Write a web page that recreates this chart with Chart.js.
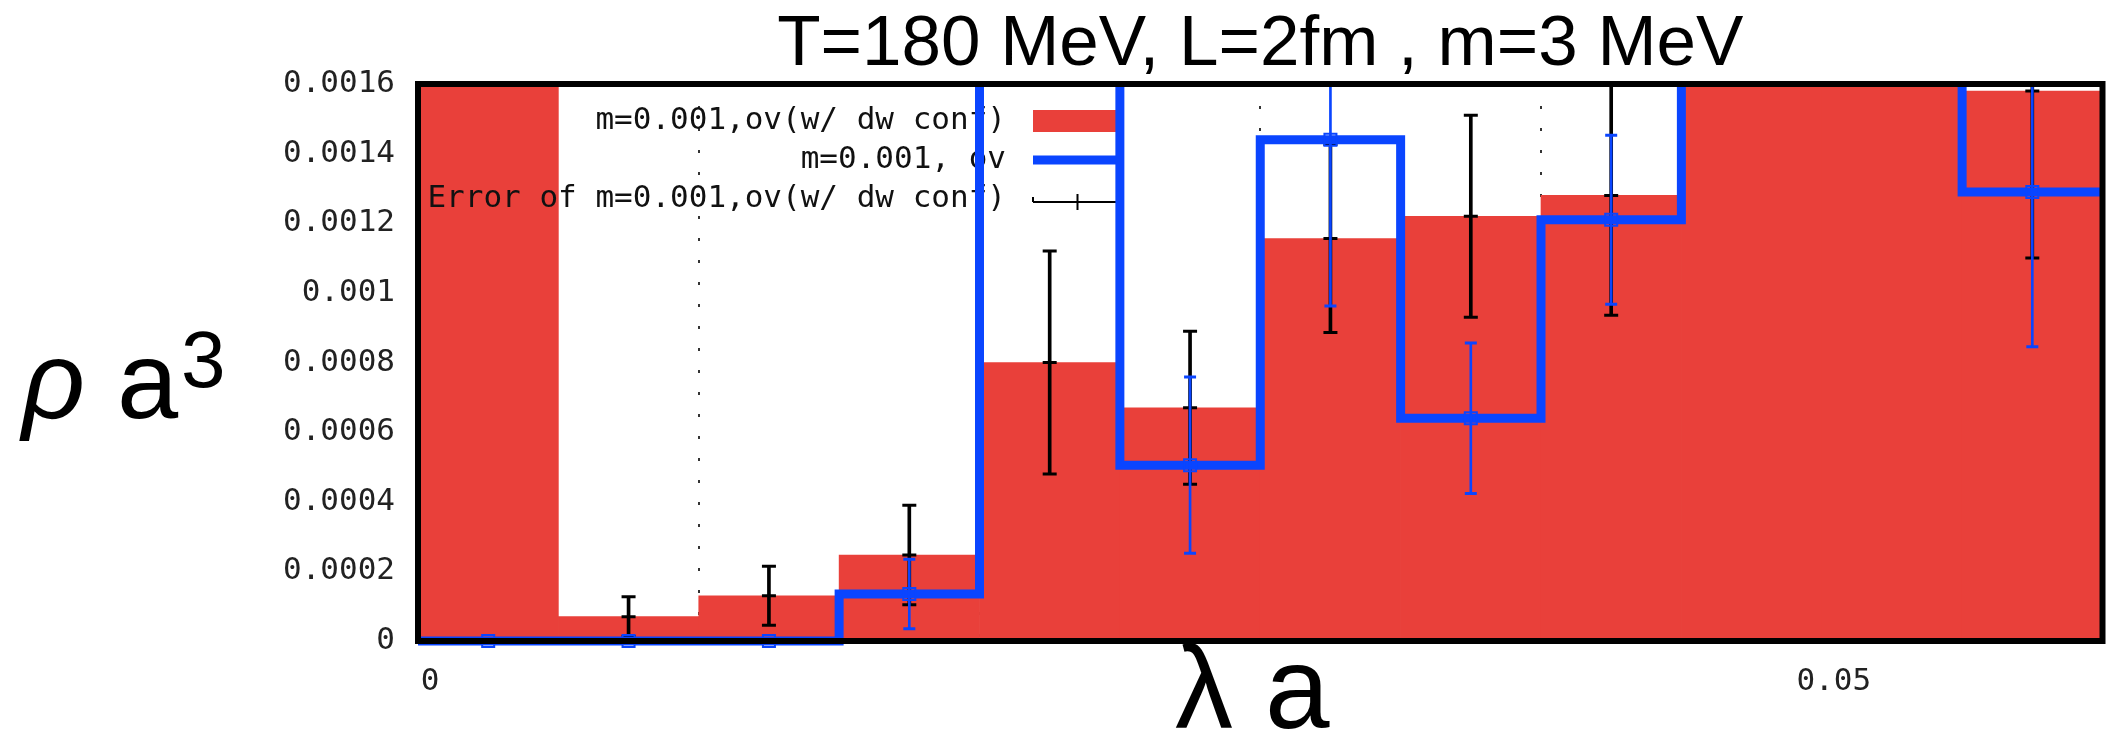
<!DOCTYPE html>
<html><head><meta charset="utf-8">
<script src="https://cdn.jsdelivr.net/npm/chart.js@4/dist/chart.umd.min.js"></script>
<style>html,body{margin:0;padding:0;background:#fff}canvas{display:block}</style>
</head><body>
<canvas id="c" width="2113" height="733"></canvas>
<script>
// ---- data ----
const titleText = 'T=180 MeV, L=2fm , m=3 MeV';
const binEdges   = [0, 0.005, 0.01, 0.015, 0.02, 0.025, 0.03, 0.035, 0.04, 0.045, 0.05, 0.055, 0.06];
const binCenters = [0.0025, 0.0075, 0.0125, 0.0175, 0.0225, 0.0275, 0.0325, 0.0375, 0.0425, 0.0475, 0.0525, 0.0575];
// m=0.001,ov(w/ dw conf)  (bins 0, 9, 10 run off the top of the plot)
const redValues  = [0.0028, 0.00007, 0.00013, 0.000247, 0.0008, 0.00067, 0.001156, 0.00122, 0.00128, 0.0024, 0.0026, 0.00158];
const redErrors  = [0.0005, 0.000057, 0.000085, 0.000143, 0.00032, 0.00022, 0.00027, 0.00029, 0.000344, 0.0004, 0.0004, 0.00048];
// m=0.001, ov  (bins 4, 9, 10 run off the top of the plot)
const blueValues = [0, 0, 0, 0.000135, 0.0021, 0.000505, 0.00144, 0.00064, 0.00121, 0.0023, 0.0025, 0.00129];
const blueErrors = [0, 0, 0, 0.0001, 0.0004, 0.000253, 0.000478, 0.000216, 0.000243, 0.0004, 0.0004, 0.000445];
const xLabeledTicks = [0, 0.05];
const yTickStep = 0.0002;
const legendLabels = ['m=0.001,ov(w/ dw conf)', 'm=0.001, ov', 'Error of m=0.001,ov(w/ dw conf)'];

// ---- styles ----
const RED = '#e9403a', BLUE = '#0a45ff', BLACK = '#000';
const monoFont = '"DejaVu Sans Mono", "Liberation Mono", monospace';
const sansFont = '"Liberation Sans", Arial, sans-serif';

// ---- derived point lists ----
const redBars = binCenters.map((x, i) => ({x, y: redValues[i]}));
const blackStems = binCenters.map((x, i) => ({x, y: [redValues[i] - redErrors[i], redValues[i] + redErrors[i]]}));
const blackMarks = binCenters.flatMap((x, i) => [
  {x, y: redValues[i] - redErrors[i]}, {x, y: redValues[i]}, {x, y: redValues[i] + redErrors[i]}]);
const blueStep = binEdges.map((x, i) => ({x, y: blueValues[Math.min(i, blueValues.length - 1)]}));
const blueStems = binCenters.map((x, i) => ({x, y: [blueValues[i] - blueErrors[i], blueValues[i] + blueErrors[i]]}));
const blueCaps = binCenters.flatMap((x, i) => [
  {x, y: blueValues[i] - blueErrors[i]}, {x, y: blueValues[i] + blueErrors[i]}]);
const blueMarks = binCenters.map((x, i) => ({x, y: blueValues[i]}));

const softClip = {left: 0, right: 0, top: 0, bottom: 10};

const overlay = {
  id: 'overlay',
  afterDatasetDraw(chart, args) {
    if (chart.data.datasets[args.index].id !== 'red') return;
    const {ctx, chartArea: a} = chart;
    const textRight = a.left + 588, sL = a.left + 615, sR = a.left + 704;
    const rows = [a.top + 37, a.top + 76, a.top + 115];
    ctx.save();
    ctx.font = '31px ' + monoFont;
    ctx.fillStyle = '#111';
    ctx.textAlign = 'right';
    ctx.textBaseline = 'middle';
    legendLabels.forEach((t, i) => ctx.fillText(t, textRight, rows[i]));
    ctx.fillStyle = RED;
    ctx.fillRect(sL, rows[0] - 11, sR - sL, 22);
    ctx.strokeStyle = BLUE; ctx.lineWidth = 9; ctx.lineCap = 'butt';
    ctx.beginPath(); ctx.moveTo(sL, rows[1]); ctx.lineTo(sR, rows[1]); ctx.stroke();
    ctx.strokeStyle = BLACK; ctx.lineWidth = 2;
    const ym = rows[2] + 3, mid = (sL + sR) / 2;
    ctx.beginPath();
    ctx.moveTo(sL, ym); ctx.lineTo(sR, ym);
    ctx.moveTo(sL, ym - 5); ctx.lineTo(sL, ym);
    ctx.moveTo(sR, ym - 5); ctx.lineTo(sR, ym);
    ctx.moveTo(mid, ym - 8); ctx.lineTo(mid, ym + 8);
    ctx.stroke();
    ctx.restore();
  },
  afterDatasetsDraw(chart) {
    const {ctx, chartArea: a} = chart;
    ctx.save();
    ctx.strokeStyle = BLACK; ctx.lineWidth = 6;
    ctx.strokeRect(a.left, a.top, a.right - a.left, a.bottom - a.top);
    ctx.restore();
  },
  afterDraw(chart) {
    const {ctx, chartArea: a} = chart;
    ctx.save();
    ctx.fillStyle = BLACK;
    ctx.textBaseline = 'alphabetic';
    ctx.textAlign = 'left';
    ctx.font = 'italic 110px ' + sansFont;
    ctx.fillText('ρ', 22, 418);
    ctx.font = '110px ' + sansFont;
    ctx.fillText('a', 117, 418);
    ctx.font = '80px ' + sansFont;
    ctx.fillText('3', 181, 387);
    ctx.font = '116px ' + sansFont;
    ctx.textAlign = 'center';
    ctx.fillText('λ a', (a.left + a.right) / 2 - 8, 728);
    ctx.restore();
  }
};

new Chart(document.getElementById('c'), {
  type: 'bar',
  data: {
    datasets: [
      {id: 'red', type: 'bar', label: legendLabels[0], data: redBars, backgroundColor: RED,
       borderWidth: 0, barPercentage: 1, categoryPercentage: 1, grouped: false, order: 6},
      {type: 'bar', label: 'black stems', data: blackStems, backgroundColor: BLACK,
       barThickness: 3, grouped: false, order: 5},
      {type: 'line', label: legendLabels[2], data: blackMarks, showLine: false, pointStyle: 'line',
       pointRadius: 7, pointBorderWidth: 3, pointBorderColor: BLACK, pointBackgroundColor: BLACK,
       clip: softClip, order: 4},
      {type: 'line', label: legendLabels[1], data: blueStep, stepped: 'before', borderColor: BLUE,
       borderWidth: 9, pointRadius: 0, fill: false, borderJoinStyle: 'miter', borderCapStyle: 'butt',
       clip: softClip, order: 3},
      {type: 'bar', label: 'blue stems', data: blueStems, backgroundColor: BLUE,
       barThickness: 2, grouped: false, order: 2},
      {type: 'line', label: 'blue caps', data: blueCaps, showLine: false, pointStyle: 'line',
       pointRadius: 6, pointBorderWidth: 3, pointBorderColor: BLUE, clip: softClip, order: 1},
      {type: 'line', label: 'blue marks', data: blueMarks, showLine: false, pointStyle: 'rect',
       pointRadius: 8.5, pointBorderWidth: 2, pointBorderColor: BLUE,
       pointBackgroundColor: 'rgba(0,0,0,0)', clip: softClip, order: 0}
    ]
  },
  options: {
    responsive: false,
    animation: false,
    devicePixelRatio: 1,
    events: [],
    layout: {padding: {left: 0, right: 5, top: 0, bottom: 0}},
    plugins: {
      legend: {display: false},
      tooltip: {enabled: false},
      title: {
        display: true, text: titleText, fullSize: false, color: BLACK,
        font: {family: sansFont, size: 71, weight: 'normal', lineHeight: 1},
        padding: {top: 10, bottom: 3}
      }
    },
    scales: {
      x: {
        type: 'linear', min: binEdges[0], max: binEdges[binEdges.length - 1], offset: false,
        afterFit: s => { s.height = 92; s.paddingLeft = 0; s.paddingRight = 0; },
        grid: {display: true, offset: false, color: '#333', lineWidth: 2, drawTicks: false},
        border: {display: false, dash: [3, 19]},
        ticks: {
          stepSize: 0.01, autoSkip: false, maxRotation: 0, padding: 22, labelOffset: 12,
          color: '#222', font: {family: monoFont, size: 31},
          callback: v => {
            const hit = xLabeledTicks.find(t => Math.abs(t - v) < 1e-9);
            return hit === undefined ? '' : String(hit);
          }
        }
      },
      y: {
        type: 'linear', min: 0, max: 0.0016,
        afterFit: s => { s.width = 418; s.paddingTop = 0; s.paddingBottom = 0; },
        grid: {display: false, drawTicks: false},
        border: {display: false},
        ticks: {
          stepSize: yTickStep, padding: 23, color: '#222', font: {family: monoFont, size: 31},
          callback: v => String(Number(v.toFixed(6)))
        }
      }
    }
  },
  plugins: [overlay]
});
</script>
</body></html>
